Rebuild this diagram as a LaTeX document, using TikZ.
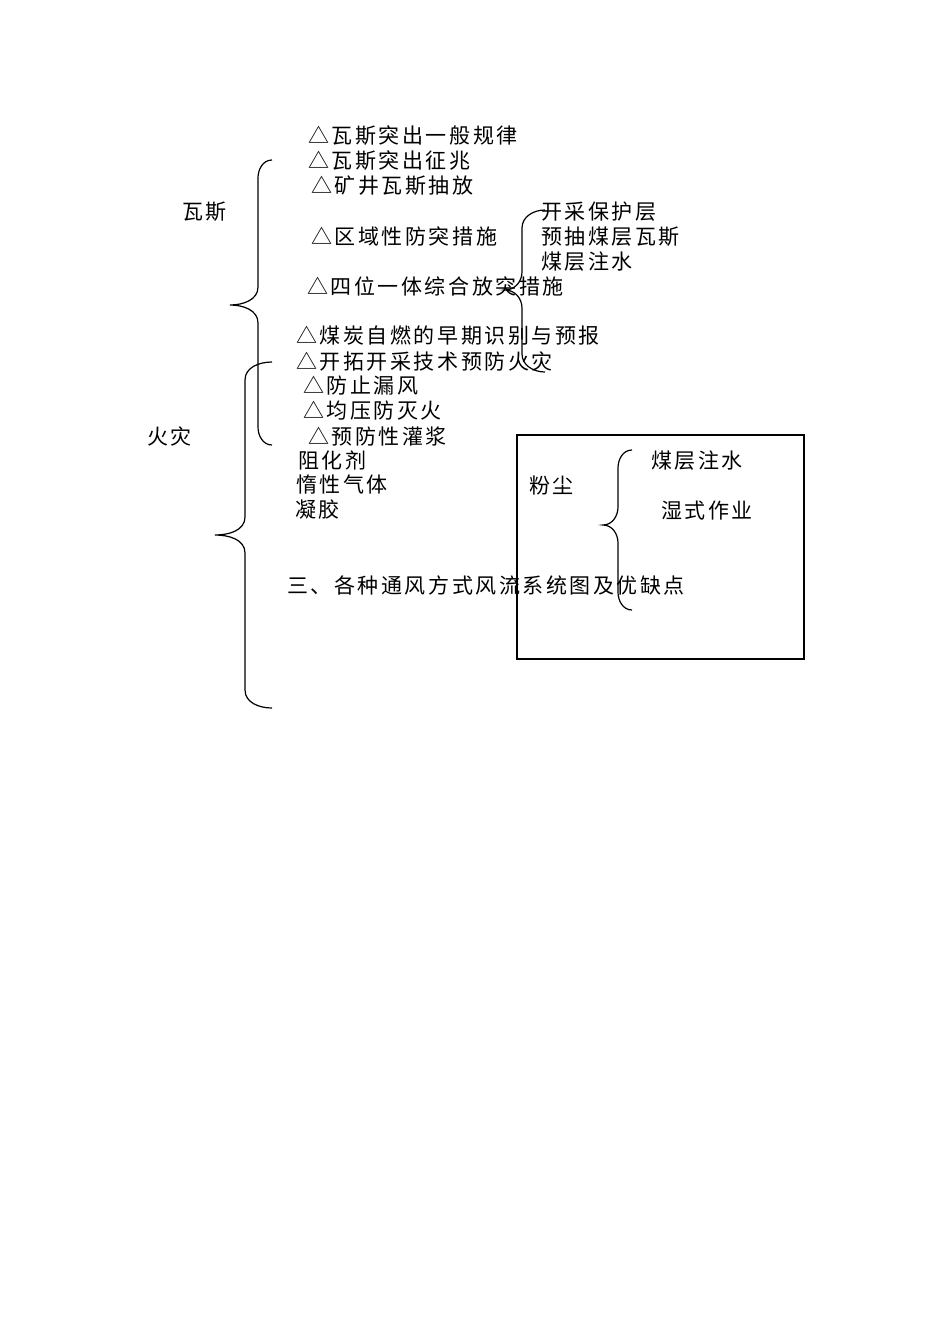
\documentclass[tikz,border=0pt]{standalone}
\usepackage{fontspec}
\setmainfont{Noto Sans CJK SC}
\begin{document}
\begin{tikzpicture}[x=0.5pt,y=-0.5pt,
 t/.style={anchor=west,inner sep=0pt,font=\fontsize{10.5}{12}\selectfont\addfontfeature{LetterSpace=12}},
 br/.style={line width=0.6pt}]
\useasboundingbox (0,0) rectangle (950,1344);
\def\brace#1#2#3#4#5{% xend, xspine, xtip, ytop, ymid, ybot
}
\newcommand\mybrace[6]{\draw[br] (#1,#4) to[out=180,in=90] (#2,#4+18) -- (#2,#5-18) to[out=-90,in=0] (#3,#5) to[out=0,in=90] (#2,#5+18) -- (#2,#6-18) to[out=-90,in=180] (#1,#6);}
\mybrace{272}{258}{230}{160}{305}{445}
\mybrace{272}{245}{215}{362}{535}{708}
\mybrace{545}{522}{505}{210}{290}{372}
\mybrace{632}{618}{603}{450}{525}{610}
\draw[br] (517,435) rectangle (804,659);
\node[t] (a1) at (308,136) {△瓦斯突出一般规律};
\node[t] (a2) at (308,161) {△瓦斯突出征兆};
\node[t] (a3) at (311,186) {△矿井瓦斯抽放};
\node[t] (a4) at (311,236) {△区域性防突措施};
\node[t] (a5) at (307,286) {△四位一体综合放突措施};
\node[t] (b1) at (296,336) {△煤炭自燃的早期识别与预报};
\node[t] (b2) at (296,361) {△开拓开采技术预防火灾};
\node[t] (b3) at (303,386) {△防止漏风};
\node[t] (b4) at (303,411) {△均压防灭火};
\node[t] (b5) at (308,436) {△预防性灌浆};
\node[t] (c1) at (298,460) {阻化剂};
\node[t] (c2) at (296,485) {惰性气体};
\node[t] (c3) at (295,510) {凝胶};
\node[t] (d) at (287,585) {三、各种通风方式风流系统图及优缺点};
\node[t] (w) at (182,212) {瓦斯};
\node[t] (h) at (147,436) {火灾};
\node[t] (e1) at (541,212) {开采保护层};
\node[t] (e2) at (541,237) {预抽煤层瓦斯};
\node[t] (e3) at (541,262) {煤层注水};
\node[t] (f) at (529,486) {粉尘};
\node[t] (g1) at (651,461) {煤层注水};
\node[t] (g2) at (661,511) {湿式作业};
\end{tikzpicture}
\end{document}
